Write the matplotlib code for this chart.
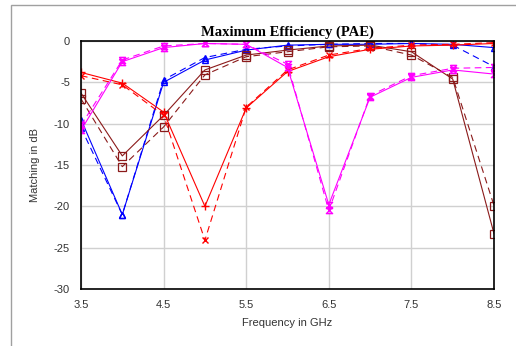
import matplotlib
matplotlib.use("Agg")
import matplotlib.pyplot as plt
from matplotlib.patches import Rectangle

freq = [3.5, 4.0, 4.5, 5.0, 5.5, 6.0, 6.5, 7.0, 7.5, 8.0, 8.5]

blue_solid  = [-9.5, -21.0, -5.0, -2.3, -1.1, -0.5, -0.4, -0.4, -0.3, -0.4, -0.8]
blue_dash   = [-10.5, -21.0, -4.7, -2.0, -1.0, -0.6, -0.4, -0.3, -0.3, -0.5, -3.1]
brown_solid = [-6.3, -13.9, -9.0, -3.5, -1.7, -1.1, -0.6, -0.5, -1.3, -4.6, -23.3]
brown_dash  = [-7.0, -15.2, -10.4, -4.1, -1.9, -1.3, -0.7, -0.6, -1.7, -4.4, -19.9]
red_solid   = [-3.8, -5.1, -8.6, -20.0, -8.1, -3.7, -1.9, -1.0, -0.6, -0.5, -0.3]
red_dash    = [-4.2, -5.3, -9.0, -24.1, -8.0, -3.5, -1.7, -0.9, -0.5, -0.4, -0.2]
mag_solid   = [-10.8, -2.5, -0.8, -0.3, -0.4, -3.2, -19.8, -6.8, -4.4, -3.5, -4.0]
mag_dash    = [-10.2, -2.3, -0.6, -0.3, -0.4, -2.8, -20.5, -6.6, -4.2, -3.3, -3.2]

xticks = [3.5, 4.5, 5.5, 6.5, 7.5, 8.5]
yticks = [0, -5, -10, -15, -20, -25, -30]

fig = plt.figure(figsize=(5.16, 3.46), dpi=100)
fig.patches.append(Rectangle((11/516, -0.1), 2, 1 - 5/346 + 0.1, transform=fig.transFigure,
                             fill=False, edgecolor="#a0a0a0", linewidth=1.0))
ax = fig.add_axes([81/516, 1 - 289/346, (494 - 81)/516, (289 - 41)/346])

hour = [(-1, 1), (1, 1), (-1, -1), (1, -1), (-1, 1)]
ms = 4.5
lw = 0.8
ax.plot(freq, blue_solid, '-', color='#0000FF', lw=lw, marker='^', ms=ms, mfc='none', mew=1)
ax.plot(freq, blue_dash, '--', color='#0000FF', lw=lw, marker='^', ms=ms, mfc='none', mew=1, dashes=(6, 4))
ax.plot(freq, brown_solid, '-', color='#8B1A1A', lw=lw, marker='s', ms=ms + 1, mfc='none', mew=0.9)
ax.plot(freq, brown_dash, '--', color='#8B1A1A', lw=lw, marker='s', ms=ms + 1, mfc='none', mew=0.9, dashes=(6, 4))
ax.plot(freq, red_solid, '-', color='#FF0000', lw=lw, marker='+', ms=ms + 1, mew=1)
ax.plot(freq, red_dash, '--', color='#FF0000', lw=lw, marker='x', ms=ms, mew=1, dashes=(6, 4))
ax.plot(freq, mag_solid, '-', color='#FF00FF', lw=lw, marker=hour, ms=ms, mfc='none', mew=1)
ax.plot(freq, mag_dash, '--', color='#FF00FF', lw=lw, marker=hour, ms=ms, mfc='none', mew=1, dashes=(6, 4))

ax.set_xlim(3.5, 8.5)
ax.set_ylim(-30, 0)
ax.set_xticks(xticks)
ax.set_xticklabels([f"{v:g}" for v in xticks])
ax.set_yticks(yticks)
ax.set_yticklabels([f"{v:g}" for v in yticks])
ax.grid(True, color='#d0d0d0', linewidth=1.0)
ax.set_axisbelow(True)
ax.tick_params(length=0, labelsize=8, pad=8, labelcolor='#333333')
for lab in ax.get_xticklabels() + ax.get_yticklabels():
    lab.set_family('Liberation Sans')
for s in ax.spines.values():
    s.set_linewidth(1.2)
    s.set_color('black')

ax.set_title("Maximum Efficiency (PAE)", family='Liberation Serif', fontweight='bold',
             fontsize=10.5, pad=4)
ax.set_xlabel("Frequency in GHz", family='Liberation Sans', fontsize=8, labelpad=6, color='#333333')
ax.set_ylabel("Matching in dB", family='Liberation Sans', fontsize=8, labelpad=10, color='#333333')

fig.savefig("out.png", dpi=100)
